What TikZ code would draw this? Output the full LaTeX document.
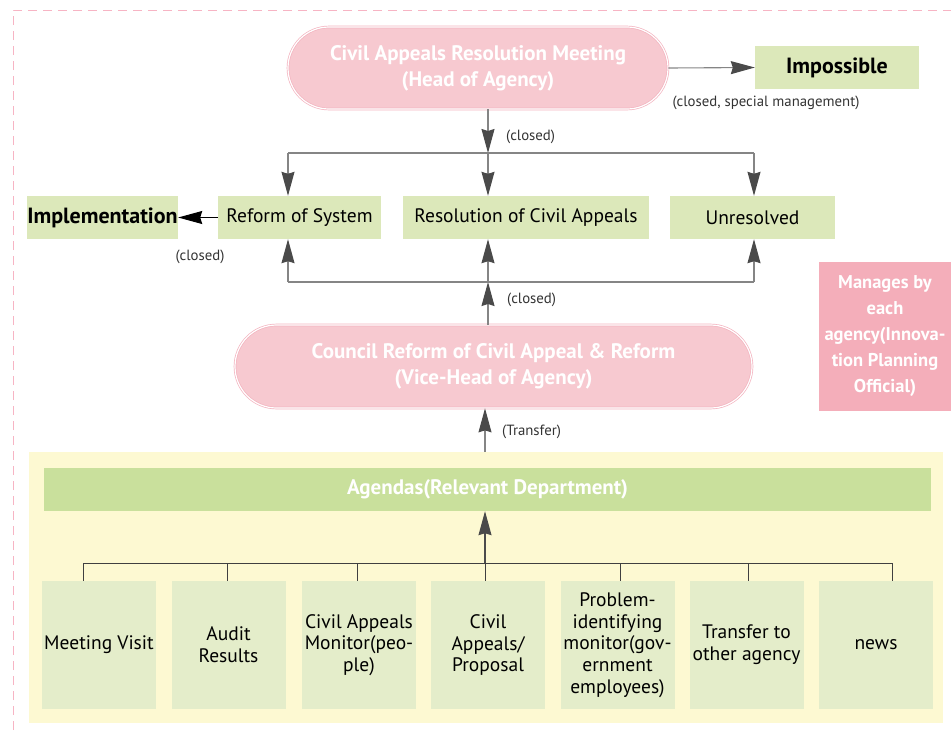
\documentclass[tikz,border=0pt]{standalone}
\usepackage{fontspec}
\setmainfont{PT Sans}
\usetikzlibrary{arrows.meta,shapes.misc}
\definecolor{pinkfill}{HTML}{F7C9D0}
\definecolor{pinkline}{HTML}{F3B3BF}
\definecolor{pinkbox}{HTML}{F4AEBA}
\definecolor{greenbox}{HTML}{DCE8BA}
\definecolor{lightgreen}{HTML}{E4EDCA}
\definecolor{agendagreen}{HTML}{C9E09C}
\definecolor{yellowbg}{HTML}{FDF9D2}
\definecolor{dashpink}{HTML}{F7B4C4}
\definecolor{linegray}{HTML}{858585}
\definecolor{tipgray}{HTML}{4A4A4A}
\tikzset{
  stadium/.style={rounded rectangle, fill=pinkfill, draw=pinkline, double=white,
    double distance=1.2pt, line width=0.7pt, text=white,
    font=\bfseries\fontsize{21}{26}\selectfont, align=center, inner sep=0pt},
  resbox/.style={fill=greenbox, minimum height=43, inner sep=0pt,
    font=\fontsize{19.5}{22}\selectfont},
  boldres/.style={resbox, font=\bfseries\fontsize{22}{24}\selectfont},
  srcbox/.style={fill=lightgreen, minimum width=114, minimum height=128, inner sep=0pt,
    align=center, font=\fontsize{19.5}{21.7}\selectfont},
  lbl/.style={font=\fontsize{14.8}{16}\selectfont, text=black!80, inner sep=0pt},
  conn/.style={draw=linegray, line width=1.1pt,
    -{Stealth[length=24pt,width=13pt,inset=2pt,color=tipgray]}},
  plain/.style={draw=linegray, line width=1.1pt},
  thinline/.style={draw=black!75, line width=0.9pt},
  blackarrow/.style={draw=black, line width=1pt,
    -{Stealth[length=24pt,width=13pt,inset=2pt,color=black]}}
}
\begin{document}
\begin{tikzpicture}[x=1pt,y=-1pt]
\useasboundingbox (0,0) rectangle (951,732);
% dashed frame
\draw[dashpink, line width=0.9pt, dash pattern=on 9pt off 6pt] (13,745) -- (13,10) -- (960,10);
% yellow background
\fill[yellowbg] (29,452) rectangle (943,723);
% pink side box
\fill[pinkbox] (819,262) rectangle (951,411);
\node[text=white, align=center, font=\bfseries\fontsize{18.5}{26}\selectfont, inner sep=0pt]
  (mgr) at (885,336) {Manages by\\each\\agency(Innova-\\tion Planning\\Official)};

% top stadium
\node[stadium, minimum width=380, minimum height=82] (s1) at (478,68)
  {Civil Appeals Resolution Meeting\\(Head of Agency)};
\node[boldres, minimum width=164] (imp) at (837,67.5) {Impossible};
\node[lbl] (lblsp) at (766,103) {(closed, special management)};

% result row
\node[boldres, minimum width=151] (impl) at (102.5,217.5) {Implementation};
\node[resbox, minimum width=163] (ref) at (299.5,217.5) {Reform of System};
\node[resbox, minimum width=246] (res) at (526,217.5) {Resolution of Civil Appeals};
\node[resbox, minimum width=165] (unr) at (752.5,217.5) {Unresolved};

% council stadium
\node[stadium, minimum width=517, minimum height=83] (s2) at (493.5,366.5)
  {Council Reform of Civil Appeal \& Reform\\(Vice-Head of Agency)};

% agendas bar
\node[fill=agendagreen, minimum width=887, minimum height=43, inner sep=0pt, text=white,
  font=\bfseries\fontsize{21}{24}\selectfont] (ag) at (487.5,489.5) {Agendas(Relevant Department)};

% source boxes
\node[srcbox] (b1) at (99,645) {Meeting Visit};
\node[srcbox] (b2) at (228.5,645) {Audit\\Results};
\node[srcbox] (b3) at (359,645) {Civil Appeals\\Monitor(peo-\\ple)};
\node[srcbox] (b4) at (488,645) {Civil\\Appeals/\\Proposal};
\node[srcbox] (b5) at (617.5,645) {Problem-\\identifying\\monitor(gov-\\ernment\\employees)};
\node[srcbox] (b6) at (746.5,645) {Transfer to\\other agency};
\node[srcbox] (b7) at (876,645) {news};

% junction coordinates
\coordinate (jt) at (488,153);
\coordinate (jtl) at (288,153);
\coordinate (jtr) at (754,153);
\coordinate (jb) at (488,282);
\coordinate (jbl) at (288,282);
\coordinate (jbr) at (754,282);
\coordinate (ytop) at (485,452);
\coordinate (jh) at (485,563);
\coordinate (h1) at (83,563);
\coordinate (h2) at (227,563);
\coordinate (h3) at (357,563);
\coordinate (h5) at (620,563);
\coordinate (h6) at (748,563);
\coordinate (h7) at (892,563);

% connectors top
\draw[conn] (s1.east) -- (imp.west);
\draw[conn] (s1.south -| jt) -- (jt);
\draw[plain] (jtl) -- (jtr);
\draw[conn] (jtl) -- (jtl |- ref.north);
\draw[conn] (jt) -- (jt |- res.north);
\draw[conn] (jtr) -- (jtr |- unr.north);
\draw[blackarrow] (ref.west) -- (impl.east);
\node[lbl, anchor=west] (lblc1) at (506,137) {(closed)};
\node[lbl] (lblc2) at (200,257) {(closed)};

% connectors middle
\draw[conn] (s2.north -| jb) -- (jb);
\draw[plain] (jbl) -- (jbr);
\draw[conn] (jbl) -- (jbl |- ref.south);
\draw[conn] (jb) -- (jb |- res.south);
\draw[conn] (jbr) -- (jbr |- unr.south);
\node[lbl, anchor=west] (lblc3) at (507,300) {(closed)};

% transfer
\draw[conn] (ytop) -- (ytop |- s2.south);
\node[lbl, anchor=west] (lbltr) at (502,432) {(Transfer)};

% agenda tree
\draw[conn, draw=black!70] (jh) -- (jh |- ag.south);
\draw[thinline] (h1) -- (h7);
\draw[thinline] (jh) -- (jh |- b4.north);
\draw[thinline] (h1) -- (h1 |- b1.north);
\draw[thinline] (h2) -- (h2 |- b2.north);
\draw[thinline] (h3) -- (h3 |- b3.north);
\draw[thinline] (h5) -- (h5 |- b5.north);
\draw[thinline] (h6) -- (h6 |- b6.north);
\draw[thinline] (h7) -- (h7 |- b7.north);
\end{tikzpicture}
\end{document}
